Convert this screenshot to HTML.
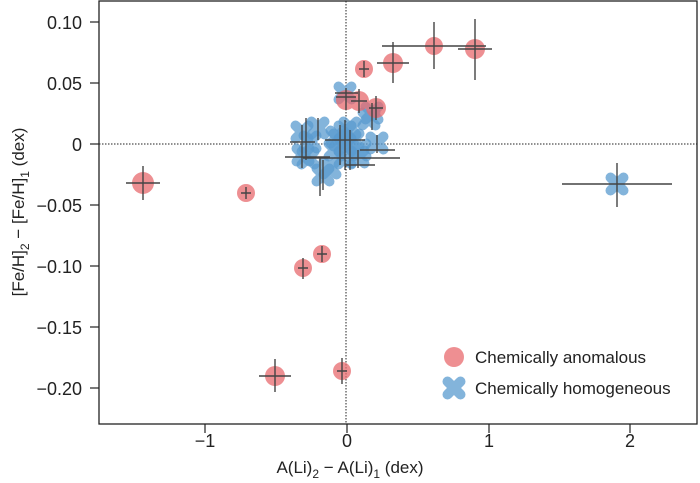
<!DOCTYPE html>
<html><head><style>body{margin:0;background:#fff}svg{display:block;font-family:"Liberation Sans",sans-serif}</style></head><body>
<svg width="700" height="483" viewBox="0 0 700 483">
<defs>
<g id="bx"><path d="M-6.5,-6.5L6.5,6.5M-6.5,6.5L6.5,-6.5" stroke="#5a9bd0" stroke-width="10" stroke-linecap="round" opacity="0.75"/></g>
</defs>
<rect x="99" y="1" width="598" height="423" fill="none" stroke="#222" stroke-width="1.3"/>
<line x1="346" y1="1" x2="346" y2="424" stroke="#222" stroke-dasharray="1.5,1.5"/>
<line x1="99" y1="144" x2="697" y2="144" stroke="#222" stroke-dasharray="1.5,1.5"/>
<g stroke="#222" stroke-width="1.2">
<line x1="90" y1="22" x2="99" y2="22"/><line x1="90" y1="83" x2="99" y2="83"/><line x1="90" y1="144" x2="99" y2="144"/><line x1="90" y1="205" x2="99" y2="205"/><line x1="90" y1="266" x2="99" y2="266"/><line x1="90" y1="327" x2="99" y2="327"/><line x1="90" y1="388" x2="99" y2="388"/>
<line x1="205" y1="424" x2="205" y2="433"/><line x1="347" y1="424" x2="347" y2="433"/><line x1="489" y1="424" x2="489" y2="433"/><line x1="630" y1="424" x2="630" y2="433"/>
</g>
<g font-size="18" fill="#222" text-anchor="end">
<text x="82" y="29">0.10</text><text x="82" y="90">0.05</text><text x="82" y="151">0</text><text x="82" y="212">−0.05</text><text x="82" y="273">−0.10</text><text x="82" y="334">−0.15</text><text x="82" y="395">−0.20</text>
</g>
<g font-size="18" fill="#222" text-anchor="middle">
<text x="205" y="447">−1</text><text x="347" y="447">0</text><text x="489" y="447">1</text><text x="630" y="447">2</text>
<text x="350" y="473" font-size="17">A(Li)<tspan font-size="12" dy="5">2</tspan><tspan dy="-5"> − A(Li)</tspan><tspan font-size="12" dy="5">1</tspan><tspan dy="-5"> (dex)</tspan></text>
<text transform="translate(24,212) rotate(-90)" font-size="17">[Fe/H]<tspan font-size="12" dy="5">2</tspan><tspan dy="-5"> − [Fe/H]</tspan><tspan font-size="12" dy="5">1</tspan><tspan dy="-5"> (dex)</tspan></text>
</g>
<g>
<use href="#bx" x="617" y="184"/><use href="#bx" x="345" y="93"/><use href="#bx" x="372" y="113"/><use href="#bx" x="369" y="119"/>
<use href="#bx" x="302" y="132"/><use href="#bx" x="318" y="128"/><use href="#bx" x="310" y="142"/><use href="#bx" x="303" y="155"/><use href="#bx" x="308" y="158"/>
<use href="#bx" x="330" y="168"/><use href="#bx" x="323" y="175"/><use href="#bx" x="345" y="132"/><use href="#bx" x="340" y="140"/><use href="#bx" x="353" y="140"/>
<use href="#bx" x="345" y="145"/><use href="#bx" x="358" y="157"/><use href="#bx" x="345" y="158"/><use href="#bx" x="377" y="143"/><use href="#bx" x="337" y="137"/><use href="#bx" x="360" y="150"/><use href="#bx" x="350" y="128"/><use href="#bx" x="335" y="150"/>
</g>
<g fill="#e86a6e" opacity="0.75">
<circle cx="143" cy="183" r="11"/><circle cx="246" cy="193" r="9"/><circle cx="303" cy="268" r="9"/><circle cx="322" cy="254" r="9"/><circle cx="275" cy="376" r="10"/><circle cx="342" cy="371" r="9"/>
<circle cx="364" cy="69" r="9"/><circle cx="393" cy="63" r="10"/><circle cx="434" cy="46" r="9"/><circle cx="475" cy="49" r="10"/><circle cx="346" cy="100" r="10"/><circle cx="359" cy="101" r="10"/><circle cx="376" cy="108" r="10"/>
</g>
<g stroke="#444" stroke-width="1.4">
<path d="M126,183H160M143,166V200M241,193H251M246,187V199M303,258V279M298,268H308M322,246V262M317,254H327M259,376H291M275,359V392M337,371H347M342,358V384"/>
<path d="M364,61V77M359,69H369M377,63H409M393,42V83M382,46H486M434,22V69M458,49H492M475,19V80M346,110V88M336,97H356M359,89V113M351,101H367M376,96V120M369,108H383"/>
<path d="M562,184H672M617,163V207M335,93H358M372,103V130M303,158H400M306,118V160M285,157H330M320,158V196M323,160V190M290,142H315M302,125V168M318,118V140M340,125V165M345,120V170M350,130V170M358,150V168M377,135V153M325,140H365M345,165H375M360,150H395"/>
</g>
<circle cx="454" cy="357" r="10" fill="#e86a6e" opacity="0.75"/>
<use href="#bx" x="454" y="388"/>
<g font-size="17" fill="#222"><text x="475" y="363">Chemically anomalous</text><text x="475" y="394">Chemically homogeneous</text></g>
</svg>
</body></html>
